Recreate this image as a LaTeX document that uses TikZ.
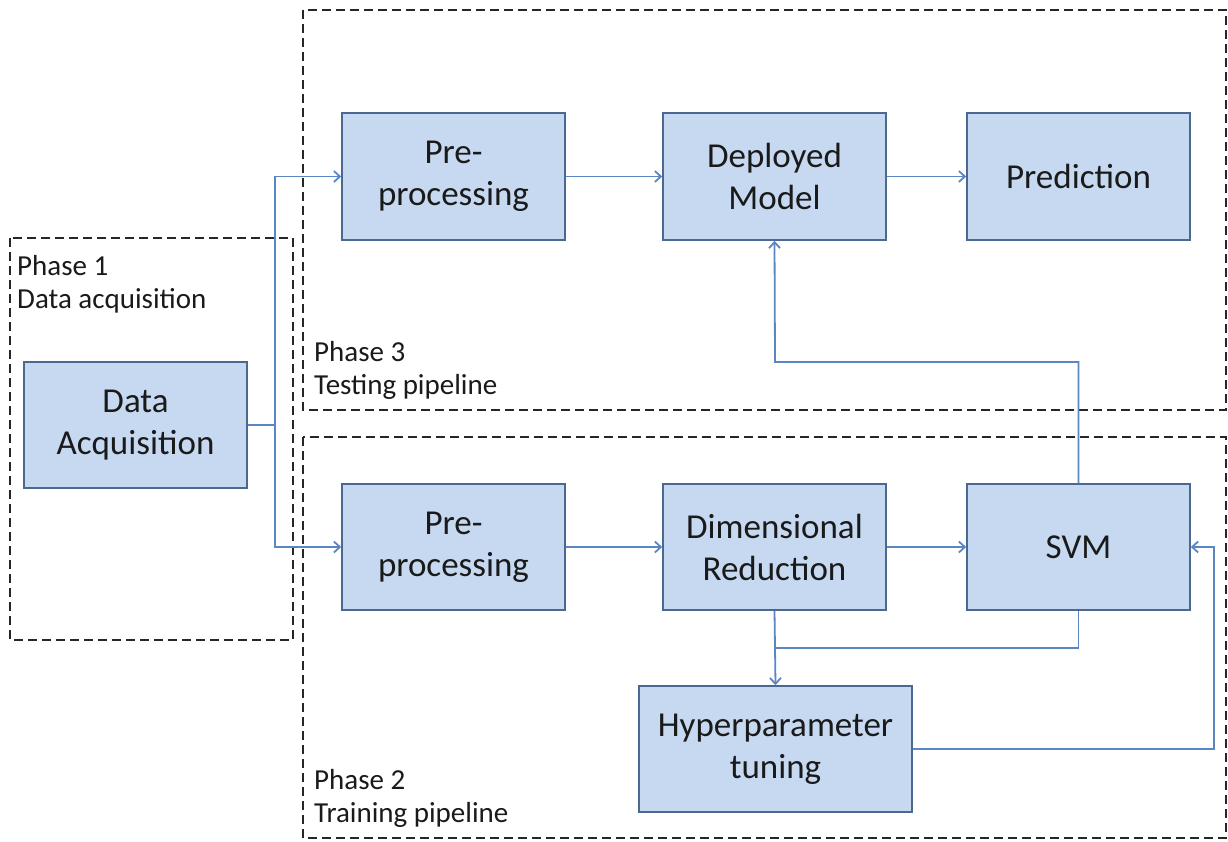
\documentclass[tikz,border=0pt]{standalone}
\usepackage{fontspec}
\setmainfont{Carlito}
\usetikzlibrary{arrows.meta}
\definecolor{boxfill}{HTML}{C6D9F1}
\definecolor{boxedge}{HTML}{4A6890}
\definecolor{wire}{HTML}{5B86C4}
\definecolor{ink}{HTML}{1A1A1A}
\tikzset{
  block/.style={draw=boxedge, fill=boxfill, line width=1.6pt, minimum width=223pt,
    minimum height=126pt, align=center, text=ink,
    font=\fontsize{35}{42}\selectfont, inner sep=0pt},
  phase/.style={draw=black!85, line width=1.6pt, dash pattern=on 9pt off 5pt},
  phaselabel/.style={anchor=north west, align=left, text=ink, inner sep=0pt,
    font=\fontsize{29}{33}\selectfont},
  wire/.style={draw=wire, line width=1.8pt},
  flow/.style={wire, -{Straight Barb[length=6pt,width=11pt,line width=1.8pt]}}
}
\begin{document}
\begin{tikzpicture}[x=1pt,y=-1pt]
\useasboundingbox (0,0) rectangle (1228,841);

% phase frames
\draw[phase] (10,238) rectangle (293,640);
\draw[phase] (303,10) rectangle (1226,410);
\draw[phase] (303,437) rectangle (1226,838);

\node[phaselabel] (p1) at (17,255) {Phase 1\\Data acquisition};
\node[phaselabel] (p3) at (314,341) {Phase 3\\Testing pipeline};
\node[phaselabel] (p2) at (314,769) {Phase 2\\Training pipeline};

% blocks
\node[block] (acq) at (135.5,425) {Data\\Acquisition};
\node[block, minimum height=127pt] (pre1) at (453.5,176.5) {Pre-\\processing};
\node[block, minimum height=127pt] (dep) at (774.5,176.5) {Deployed\\Model};
\node[block, minimum height=127pt] (pred) at (1078.5,176.5) {Prediction};
\node[block] (pre2) at (453.5,547) {Pre-\\processing};
\node[block] (dim) at (774.5,547) {Dimensional\\Reduction};
\node[block] (svm) at (1078.5,547) {SVM};
\node[block, minimum width=273pt] (hyp) at (775.5,749) {Hyperparameter\\tuning};

% junctions
\coordinate (split) at (275,425);
\coordinate (merge) at (775,648);

% connectors
\draw[wire] (acq.east) -- (split);
\draw[flow] (split) |- (pre1.west);
\draw[flow] (split) |- (pre2.west);
\draw[flow] (pre1) -- (dep);
\draw[flow] (dep) -- (pred);
\draw[flow] (pre2) -- (dim);
\draw[flow] (dim) -- (svm);
\draw[flow] (svm.north) |- (775,362) -- (dep.south);
\draw[flow] (dim.south) -- (hyp.north);
\draw[wire] (svm.south) |- (merge);
\draw[flow] (hyp.east) -- (1214,749) |- (svm.east);
\end{tikzpicture}
\end{document}
